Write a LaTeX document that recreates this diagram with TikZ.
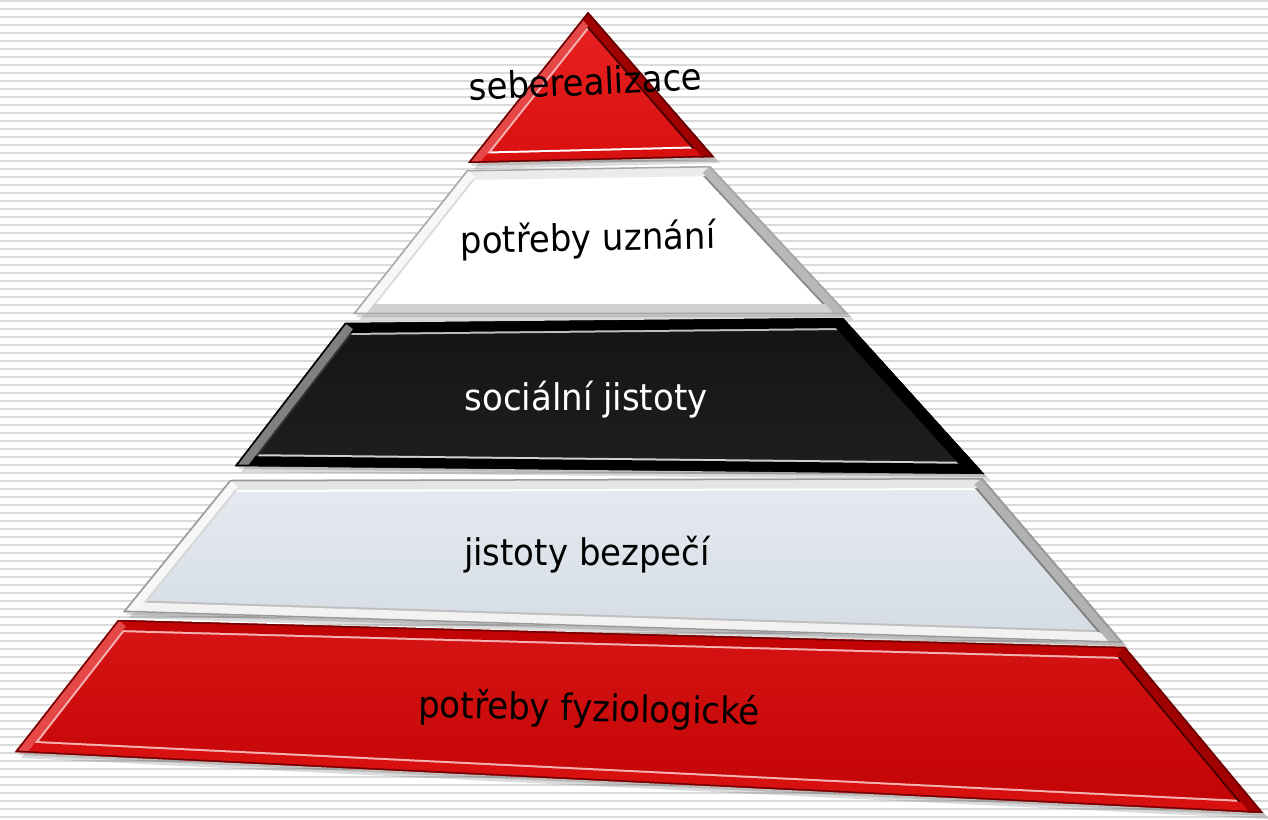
\documentclass[tikz,border=0pt]{standalone}
\usepackage{fontspec}
\setmainfont{DejaVu Sans}
\definecolor{stripe}{HTML}{DADADA}
\definecolor{redA}{HTML}{D61414}
\definecolor{redB}{HTML}{C30404}
\definecolor{redC}{HTML}{E82222}
\definecolor{redD}{HTML}{D81010}
\definecolor{redDark}{HTML}{A00000}
\definecolor{redLite}{HTML}{E64848}
\definecolor{redHL}{HTML}{F5B4B4}
\definecolor{lightA}{HTML}{E6EBF1}
\definecolor{lightB}{HTML}{D4DBE3}
\tikzset{
  lbl/.style={font=\fontsize{34}{40}\selectfont, inner sep=0pt, anchor=base, yscale=1.08},
  shade/.style={fill=black, opacity=0.14},
  % top triangle
  t main/.style={top color=redC, bottom color=redD},
  t left/.style={draw=redLite}, t lefthl/.style={draw=redHL},
  t right/.style={draw=redDark}, t righthl/.style={draw=black!70!red},
  t bot/.style={draw=redD}, t bothl/.style={draw=white},
  t rim/.style={draw=black!60!red},
  % white layer
  w main/.style={fill=white},
  w top/.style={draw=black!8}, w tophl/.style={draw=white},
  w left/.style={draw=black!3}, w lefthl/.style={draw=black!14},
  w right/.style={draw=black!28}, w righthl/.style={draw=black!45},
  w bot/.style={draw=black!18}, w bothl/.style={draw=white},
  w rim/.style={draw=black!35},
  % black layer
  k main/.style={top color=black!92, bottom color=black!88},
  k top/.style={draw=black}, k tophl/.style={draw=black!25},
  k left/.style={draw=black!50}, k lefthl/.style={draw=black!80},
  k right/.style={draw=black}, k righthl/.style={draw=black},
  k bot/.style={draw=black}, k bothl/.style={draw=black!18},
  k rim/.style={draw=black},
  % light layer
  l main/.style={top color=lightA, bottom color=lightB},
  l top/.style={draw=black!10}, l tophl/.style={draw=white},
  l left/.style={draw=black!3}, l lefthl/.style={draw=black!16},
  l right/.style={draw=black!30}, l righthl/.style={draw=black!50},
  l bot/.style={draw=black!5}, l bothl/.style={draw=black!25},
  l rim/.style={draw=black!40},
  % bottom red layer
  r main/.style={top color=redA, bottom color=redB},
  r top/.style={draw=redB}, r tophl/.style={draw=redHL},
  r left/.style={draw=redLite}, r lefthl/.style={draw=redHL},
  r right/.style={draw=redDark}, r righthl/.style={draw=black!70!red},
  r bot/.style={draw=redD}, r bothl/.style={draw=redHL},
  r rim/.style={draw=black!55!red},
}
\newcommand{\bevelquad}[1]{%
  \begin{scope}
    \clip (#1tl) -- (#1tr) -- (#1br) -- (#1bl) -- cycle;
    \fill[#1 main] (#1tl) -- (#1tr) -- (#1br) -- (#1bl) -- cycle;
    \draw[line width=24pt, #1 tophl] (#1tl) -- (#1tr);
    \draw[line width=24pt, #1 bothl] (#1bl) -- (#1br);
    \draw[line width=24pt, #1 lefthl] (#1bl) -- (#1tl);
    \draw[line width=24pt, #1 righthl] (#1tr) -- (#1br);
    \draw[line width=20pt, #1 top] (#1tl) -- (#1tr);
    \draw[line width=20pt, #1 bot] (#1bl) -- (#1br);
    \draw[line width=20pt, #1 left] (#1bl) -- (#1tl);
    \draw[line width=20pt, #1 right] (#1tr) -- (#1br);
    \draw[line width=3pt, #1 rim] (#1tl) -- (#1tr) -- (#1br) -- (#1bl) -- cycle;
  \end{scope}}
\newcommand{\shadowquad}[1]{%
  \fill[shade] ([shift={(3,3)}]#1tl) -- ([shift={(3,3)}]#1tr) -- ([shift={(3,3)}]#1br) -- ([shift={(3,3)}]#1bl) -- cycle;
  \fill[shade] ([shift={(6,6)}]#1tl) -- ([shift={(6,6)}]#1tr) -- ([shift={(6,6)}]#1br) -- ([shift={(6,6)}]#1bl) -- cycle;}
\begin{document}
\begin{tikzpicture}[x=1pt,y=-1pt]
\useasboundingbox (0,0) rectangle (1268,819);
\fill[white] (0,0) rectangle (1268,819);
\foreach \i in {0,...,102} \fill[stripe] (0,{8*\i}) rectangle (1268,{8*\i+2.2});

% corners
\coordinate (t1) at (588,12);
\coordinate (t2) at (714,157);
\coordinate (t3) at (468,163);
\coordinate (wtl) at (467,170);
\coordinate (wtr) at (710,166);
\coordinate (wbr) at (848,314);
\coordinate (wbl) at (353,314);
\coordinate (ktl) at (345,323);
\coordinate (ktr) at (843,318);
\coordinate (kbr) at (984,474);
\coordinate (kbl) at (235,466);
\coordinate (ltl) at (230,480);
\coordinate (ltr) at (982,478);
\coordinate (lbr) at (1123,643);
\coordinate (lbl) at (123,612);
\coordinate (rtl) at (118,620);
\coordinate (rtr) at (1125,647);
\coordinate (rbr) at (1263,813);
\coordinate (rbl) at (15,752);

% shadows
\fill[shade] ([shift={(3,3)}]t1) -- ([shift={(3,3)}]t2) -- ([shift={(3,3)}]t3) -- cycle;
\fill[shade] ([shift={(6,6)}]t1) -- ([shift={(6,6)}]t2) -- ([shift={(6,6)}]t3) -- cycle;
\shadowquad{w}
\shadowquad{k}
\shadowquad{l}
\shadowquad{r}

% top triangle
\begin{scope}
  \clip (t1) -- (t2) -- (t3) -- cycle;
  \fill[t main] (t1) -- (t2) -- (t3) -- cycle;
  \draw[line width=22pt, t bothl] (t3) -- (t2);
  \draw[line width=22pt, t lefthl] (t3) -- (t1);
  \draw[line width=22pt, t righthl] (t1) -- (t2);
  \draw[line width=18pt, t bot] (t3) -- (t2);
  \draw[line width=18pt, t left] (t3) -- (t1);
  \draw[line width=18pt, t right] (t1) -- (t2);
  \draw[line width=3pt, t rim] (t1) -- (t2) -- (t3) -- cycle;
\end{scope}

\bevelquad{w}
\bevelquad{k}
\bevelquad{l}
\bevelquad{r}

% labels
\node[lbl, rotate=2.5] (n1) at (586,95) {seberealizace};
\node[lbl, rotate=1] (n2) at (588,251) {potřeby uznání};
\node[lbl, text=white] (n3) at (586,410) {sociální jistoty};
\node[lbl] (n4) at (587,565) {jistoty bezpečí};
\node[lbl, rotate=-1.1] (n5) at (589,721) {potřeby fyziologické};
\end{tikzpicture}
\end{document}
